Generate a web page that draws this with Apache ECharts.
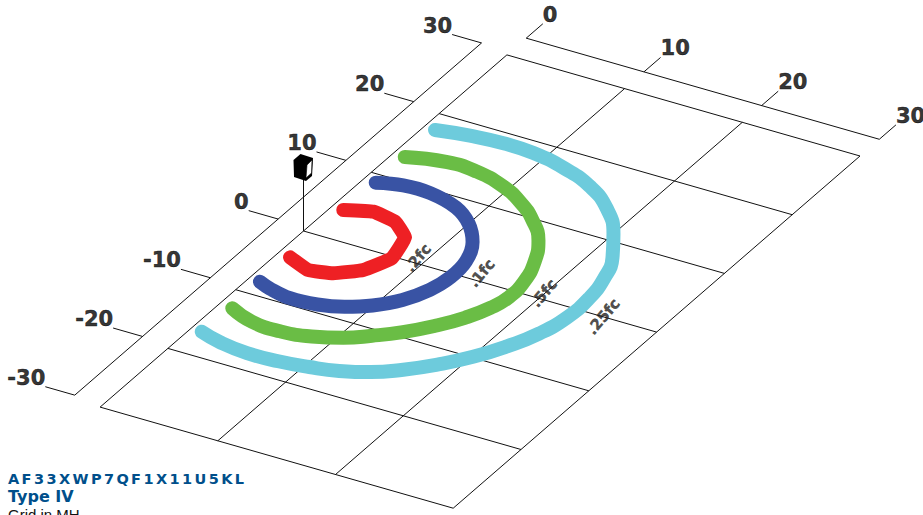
<!DOCTYPE html>
<html>
<head>
<meta charset="utf-8">
<style>html,body{margin:0;padding:0;background:#fff;overflow:hidden}#chart{width:923px;height:515px}</style>
<script src="https://cdn.jsdelivr.net/npm/echarts@6/dist/echarts.min.js"></script>
</head>
<body>
<div id="chart"></div>
<script>
// Values in mounting heights (MH): [along, across]
const alongTicks = [0, 10, 20, 30];
const acrossTicks = [30, 20, 10, 0, -10, -20, -30];
const curve25 = [[0.95,17.75],[3.6,18.3],[6.3,18.55],[9.0,18.4],[12.0,17.6],[15.0,16.2],[17.7,14.0],[20.0,11.0],[21.7,7.9],[22.7,4.9],[23.2,1.8],[23.2,-1.4],[22.6,-4.5],[21.5,-7.3],[20.1,-9.9],[18.4,-12.2],[16.6,-14.1],[14.7,-15.6],[12.6,-16.6],[10.4,-17.2],[8.0,-17.6],[5.4,-17.7],[2.9,-17.3],[0.93,-16.62]];
const curve5 = [[1.0,13.2],[4.1,14.1],[6.7,13.95],[9.4,13.05],[11.7,11.65],[13.8,9.8],[15.7,7.4],[17.0,4.6],[17.8,1.7],[18.0,-0.9],[17.6,-3.0],[16.7,-5.2],[15.4,-7.3],[13.8,-9.3],[12.1,-10.9],[10.4,-12.2],[8.3,-13.2],[5.9,-13.7],[3.4,-13.5],[1.15,-12.5]];
const curve1 = [[1.05,8.83],[3.0,9.5],[5.3,9.5],[8.0,8.6],[10.0,7.0],[11.6,4.8],[12.6,2.1],[12.8,-0.5],[12.4,-2.9],[11.4,-5.2],[9.9,-7.0],[8.2,-8.2],[6.3,-8.9],[4.1,-9.1],[2.1,-8.6],[0.96,-8.09]];
const curve2 = [[0.99,4.15],[3.03,5.03],[5.16,4.54],[6.95,2.91],[7.64,-0.26],[6.69,-2.80],[5.02,-4.32],[3.18,-4.82],[1.08,-3.86]];
const curveLabels = [['.2fc',9.30,0.74],['.1fc',14.50,1.12],['.5fc',19.95,0.84],['.25fc',25.46,0.02]];
const captionCode = 'AF33XWP7QF1X11U5KL';
const captionType = 'Type IV';
const captionGrid = 'Grid in MH';

// Oblique view of the floor plane
const project = (a, b) => [303.5 + 11.77 * a + 6.78 * b, 231 + 3.37 * a - 5.87 * b];
const pts = arr => arr.map(p => project(p[0], p[1]));

const ink = '#111';
const seg = (list, w) => ({
  type: 'line', data: list, symbol: 'none', silent: true, animation: false, z: 1,
  lineStyle: { color: ink, width: w || 1 }
});
const series = [];
// floor grid
alongTicks.forEach(a => series.push(seg(pts([[a, -30], [a, 30]]))));
acrossTicks.forEach(b => series.push(seg(pts([[0, b], [30, b]]))));
// along-axis ruler
series.push(seg(pts([[0, 32.85], [30, 32.85]])));
alongTicks.forEach(a => series.push(seg(pts([[a, 32.85], [a, 35.3]]))));
// across-axis ruler
series.push(seg(pts([[-2.5, 30.6], [-2.5, -29.4]])));
acrossTicks.forEach(b => series.push(seg(pts([[-2.5, b + 0.6], [-5, b + 0.6]]))));
// isolux curves
const curve = (data, color, smooth) => ({
  type: 'line', data: pts(data), symbol: 'none', smooth, silent: true, animation: false, z: 3,
  lineStyle: { color, width: 14, cap: 'round', join: 'round' }
});
series.push(curve(curve25, '#6dcbdc', 0.5));
series.push(curve(curve5, '#6abd45', 0.5));
series.push(curve(curve1, '#3953a4', 0.4));
series.push(curve(curve2, '#ee2024', 0.1));
// axis labels
const tickFont = { color: '#000', textBorderColor: '#000', textBorderWidth: 0.5, fontFamily: 'DejaVu Sans', fontWeight: 'bold', fontSize: 21, distance: 0, offset: [0, -9] };
series.push({
  type: 'scatter', symbolSize: 0, silent: true, animation: false, z: 5,
  data: alongTicks.map(a => ({ value: project(a, 35.3), name: String(a) })),
  label: Object.assign({ show: true, position: 'right', formatter: '{b}' }, tickFont)
});
series.push({
  type: 'scatter', symbolSize: 0, silent: true, animation: false, z: 5,
  data: acrossTicks.map(b => ({ value: project(-5, b + 0.6), name: String(b) })),
  label: Object.assign({ show: true, position: 'left', formatter: '{b}' }, tickFont)
});
// curve labels
series.push({
  type: 'scatter', symbolSize: 0, silent: true, animation: false, z: 6,
  data: curveLabels.map(l => ({ value: project(l[1], l[2]), name: l[0] })),
  label: { show: true, position: 'inside', formatter: '{b}', rotate: 50, color: '#231f20',
    textBorderColor: '#231f20', textBorderWidth: 0.4,
    fontFamily: 'DejaVu Sans', fontWeight: 'bold', fontSize: 15 }
});
// luminaire on its pole at the origin
series.push({
  type: 'custom', silent: true, animation: false, z: 4, coordinateSystem: 'cartesian2d',
  data: [project(0, 0)],
  renderItem(params, api) {
    const c = api.coord([api.value(0), api.value(1)]);
    const rel = l => l.map(p => [c[0] + p[0], c[1] + p[1]]);
    return { type: 'group', children: [
      { type: 'line', shape: { x1: c[0], y1: c[1], x2: c[0], y2: c[1] - 52 }, style: { stroke: ink, lineWidth: 1 } },
      { type: 'polygon', shape: { points: rel([[-10,-71],[-3,-77],[9.5,-73],[8.5,-55],[2.5,-50],[-9.5,-54]]) }, style: { fill: '#000' } },
      { type: 'polygon', shape: { points: rel([[3.5,-66],[8.5,-71],[8,-58],[2.5,-53]]) }, style: { fill: '#fff', stroke: '#000', lineWidth: 0.6 } }
    ] };
  }
});

const chart = echarts.init(document.getElementById('chart'), null, { renderer: 'svg' });
chart.setOption({
  animation: false,
  backgroundColor: '#fff',
  grid: { left: 0, right: 0, top: 0, bottom: 0 },
  xAxis: { type: 'value', min: 0, max: 923, show: false },
  yAxis: { type: 'value', min: 0, max: 515, inverse: true, show: false },
  graphic: [
    { type: 'text', left: 8, top: 471, style: { text: captionCode, fill: '#004f8b', font: 'bold 14.5px "DejaVu Sans"' } },
    { type: 'text', left: 8, top: 488, style: { text: captionType, fill: '#004f8b', font: 'bold 16px "DejaVu Sans"' } },
    { type: 'text', left: 8, top: 507, style: { text: captionGrid, fill: '#111', font: '15px "Liberation Sans"' } }
  ],
  series
});
document.querySelectorAll('#chart text').forEach(t => {
  if (t.textContent === captionCode) t.style.letterSpacing = '2.4px';
});
</script>
</body>
</html>
